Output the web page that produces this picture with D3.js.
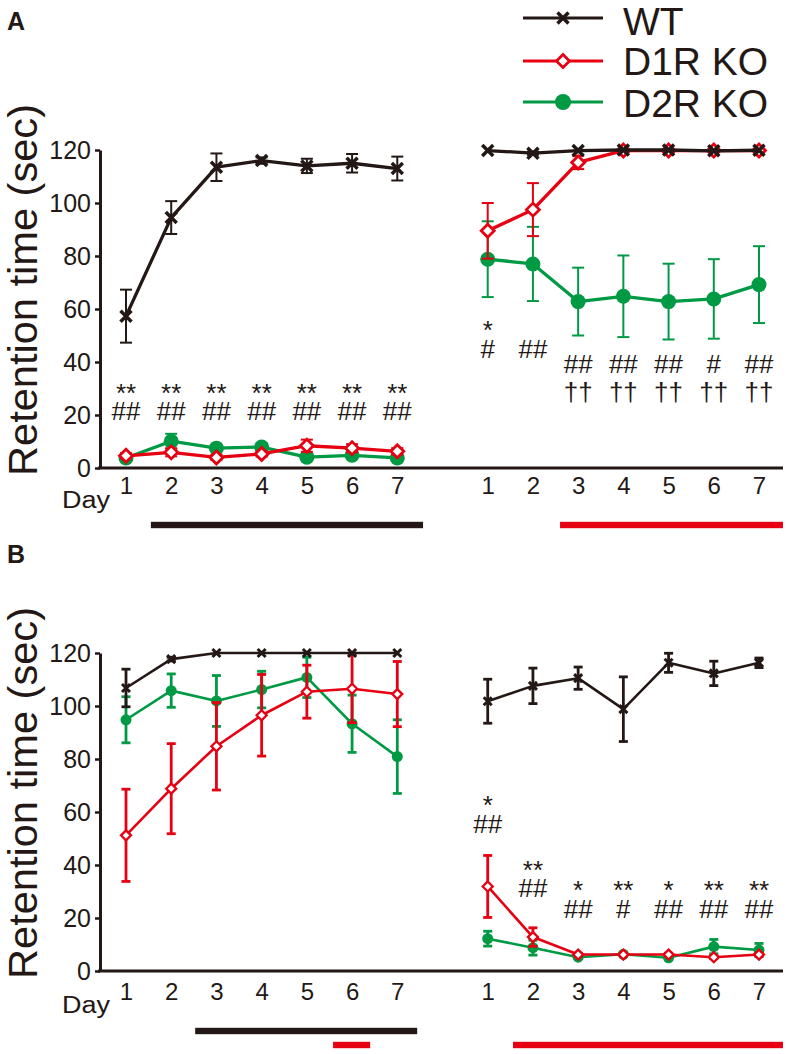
<!DOCTYPE html>
<html><head><meta charset="utf-8">
<script src="https://cdn.jsdelivr.net/npm/d3@7"></script>
<style>
body{margin:0;background:#fff}
svg{display:block}
text{font-family:"Liberation Sans",Arial,Helvetica,sans-serif;fill:#231815}
</style>
</head><body>
<svg id="chart" width="787" height="1054"></svg>
<script>
// ---------------- DATA ----------------
const dayLabels = ["1","2","3","4","5","6","7"];
const yTicks = [0,20,40,60,80,100,120];
const seriesNames = ["WT","D1R KO","D2R KO"];

// Panel A, first block (days 1-7)
const aL_WT   = [57.3, 94.5, 113.5, 116.0, 114.0, 115.0, 113.0];
const aL_WTe  = [10.0, 6.2, 5.2, 1.2, 2.7, 3.5, 4.5];
const aL_D1   = [4.6, 5.9, 4.0, 5.3, 8.4, 7.5, 6.3];
const aL_D1e  = [1.0, 1.5, 1.0, 1.0, 2.3, 1.5, 1.2];
const aL_D2   = [3.8, 10.1, 7.5, 7.9, 4.1, 4.8, 3.8];
const aL_D2e  = [0.8, 2.8, 1.0, 1.5, 0.8, 0.8, 0.6];
// Panel A, second block (days 1-7)
const aR_WT   = [119.8, 118.8, 119.8, 120.0, 120.0, 119.7, 119.9];
const aR_WTe  = [0.2, 0.6, 0.2, 0, 0, 0.3, 0.1];
const aR_D1   = [89.5, 97.5, 115.3, 119.8, 119.8, 119.8, 119.8];
const aR_D1e  = [10.5, 10.0, 2.5, 0.2, 0.2, 0.2, 0.2];
const aR_D2   = [78.8, 77.0, 62.8, 64.8, 62.8, 63.8, 69.2];
const aR_D2e  = [14.3, 14.0, 12.8, 15.4, 14.3, 15.0, 14.5];
// Panel B, first block
const bL_WT   = [106.8, 117.7, 120, 120, 120, 120, 120];
const bL_WTe  = [7.1, 0.7, 0, 0, 0, 0, 0];
const bL_D1   = [51.2, 68.8, 84.8, 96.5, 105.4, 106.5, 104.5];
const bL_D1e  = [17.4, 17.0, 16.5, 15.4, 10.0, 12.8, 12.3];
const bL_D2   = [94.8, 105.8, 101.9, 106.2, 110.8, 93.3, 80.9];
const bL_D2e  = [8.7, 6.3, 9.6, 6.9, 7.6, 10.8, 13.9];
// Panel B, second block
const bR_WT   = [101.8, 107.6, 110.5, 98.8, 116.3, 112.3, 116.3];
const bR_WTe  = [8.3, 6.7, 4.2, 12.2, 3.6, 4.6, 1.8];
const bR_D1   = [31.9, 12.8, 6.2, 6.2, 6.2, 5.2, 6.2];
const bR_D1e  = [11.7, 3.5, 0.5, 0.5, 0.5, 0.5, 0.5];
const bR_D2   = [12.2, 8.8, 5.2, 6.3, 5.0, 9.2, 7.9];
const bR_D2e  = [2.8, 2.8, 0.5, 0.5, 0.5, 2.7, 2.5];

// significance marks
const aL_stars  = ["**","**","**","**","**","**","**"];
const aL_hash   = ["##","##","##","##","##","##","##"];
const aR_stars  = ["*","","","","","",""];
const aR_hash   = ["#","##","##","##","##","#","##"];
const aR_dagger = ["","","††","††","††","††","††"];
const bR_stars  = ["*","**","*","**","*","**","**"];
const bR_hash   = ["##","##","##","#","##","##","##"];

// treatment period bars (in day-slot units: block 1 days 1-7 = 0..6, block 2 days 1-7 = 8..14)
const aBarsBlack = [[0.55, 6.57]];
const aBarsRed   = [[9.6, 14.53]];
const bBarsBlack = [[1.53, 6.44]];
const bBarsRed   = [[4.58, 5.4], [8.56, 14.53]];

// ---------------- DRAWING ----------------
const BLACK = "#231815", RED = "#e60012", GREEN = "#009944";
const svg = d3.select("#chart");
const x = d3.scaleLinear().domain([0, 14]).range([126, 759]);
const slotsL = d3.range(7), slotsR = d3.range(8, 15);

function panel(cfg) {
  const y = d3.scaleLinear().domain([0, 120]).range([cfg.y0, cfg.y0 - 318]);
  const g = svg.append("g");

  // y axis
  const ya = g.append("g").attr("transform", "translate(100,0)")
    .call(d3.axisLeft(y).tickValues(yTicks).tickSize(5).tickSizeOuter(0).tickPadding(4));
  ya.select(".domain").attr("stroke", BLACK).attr("stroke-width", 3);
  ya.selectAll(".tick line").attr("stroke", BLACK).attr("stroke-width", 2.5);
  ya.selectAll(".tick text").attr("font-size", 25).attr("font-family", null).style("fill", BLACK);

  // x axis line
  g.append("line").attr("x1", 98).attr("x2", 783).attr("y1", y(0)).attr("y2", y(0))
    .attr("stroke", BLACK).attr("stroke-width", 3);
  const xa = g.append("g").attr("transform", `translate(0,${y(0)})`)
    .call(d3.axisBottom(x).tickValues(slotsL.concat(slotsR)).tickSize(0).tickPadding(cfg.xPad)
      .tickFormat(d => dayLabels[d < 7 ? d : d - 8]));
  xa.select(".domain").remove();
  xa.selectAll(".tick text").attr("font-size", 24).attr("font-family", null).style("fill", BLACK);

  g.append("text").attr("x", 62).attr("y", cfg.dayY).attr("font-size", 23)
    .attr("textLength", 48).attr("lengthAdjust", "spacingAndGlyphs").text("Day");
  g.append("text").attr("transform", `translate(37,${cfg.y0 - 178}) rotate(-90)`)
    .attr("text-anchor", "middle").attr("font-size", 40).attr("textLength", 372)
    .attr("lengthAdjust", "spacingAndGlyphs").text("Retention time (sec)");
  g.append("text").attr("x", 7).attr("y", cfg.letterY).attr("font-size", 25)
    .attr("font-weight", "bold").text(cfg.letter);

  const s = cfg.style;
  function series(slots, vals, errs, color, kind) {
    const sg = g.append("g");
    slots.forEach((sl, i) => {
      if (errs[i] <= 0.3) return;
      const cx = x(sl), t = y(vals[i] + errs[i]), b = y(vals[i] - errs[i]);
      sg.append("line").attr("x1", cx).attr("x2", cx).attr("y1", t).attr("y2", b)
        .attr("stroke", color).attr("stroke-width", s.eb);
      [t, b].forEach(yy => sg.append("line").attr("x1", cx - s.cap).attr("x2", cx + s.cap)
        .attr("y1", yy).attr("y2", yy).attr("stroke", color).attr("stroke-width", s.eb));
    });
    sg.append("path").datum(slots.map((sl, i) => [sl, vals[i]]))
      .attr("d", d3.line().x(d => x(d[0])).y(d => y(d[1])))
      .attr("fill", "none").attr("stroke", color).attr("stroke-width", s.lw).attr("stroke-linejoin", "round");
    slots.forEach((sl, i) => drawMarker(sg, x(sl), y(vals[i]), kind, color, s));
  }
  cfg.blocks.forEach(bk => {
    series(bk.slots, bk.d2, bk.d2e, GREEN, "circle");
    series(bk.slots, bk.d1, bk.d1e, RED, "diamond");
    series(bk.slots, bk.wt, bk.wte, BLACK, "cross");
  });

  // annotations: one multi-line label per day
  cfg.annos.forEach(a => {
    a.slots.forEach((sl, i) => {
      const lines = a.rows.map(r => ({t: r.text[i], y: r.base(i)})).filter(l => l.t);
      if (!lines.length) return;
      const t = g.append("text").attr("text-anchor", "middle").attr("font-size", 26);
      lines.forEach(l => t.append("tspan").attr("x", x(sl)).attr("y", l.y).text(l.t));
    });
  });

  cfg.bars.forEach(b => b.list.forEach(r => {
    g.append("rect").attr("x", x(r[0])).attr("width", x(r[1]) - x(r[0]))
      .attr("y", b.y - 3.2).attr("height", 6.4).attr("fill", b.color);
  }));
}

function drawMarker(sel, cx, cy, kind, color, s) {
  if (kind === "circle") {
    sel.append("circle").attr("cx", cx).attr("cy", cy).attr("r", s.r).attr("fill", color);
  } else if (kind === "diamond") {
    const h = s.dm;
    sel.append("path").attr("d", `M${cx},${cy - h}L${cx + h},${cy}L${cx},${cy + h}L${cx - h},${cy}Z`)
      .attr("fill", "#fff").attr("stroke", color).attr("stroke-width", s.dw);
  } else {
    const h = s.cx;
    sel.append("path").attr("d", `M${cx - h},${cy - h}L${cx + h},${cy + h}M${cx - h},${cy + h}L${cx + h},${cy - h}`)
      .attr("stroke", color).attr("stroke-width", s.cw).attr("fill", "none");
  }
}

const styleA = {lw: 3.3, eb: 2, cap: 6, r: 7.5, dm: 6.5, dw: 2.8, cx: 5.5, cw: 3.5};
const styleB = {lw: 2.6, eb: 2.8, cap: 4.5, r: 5.5, dm: 5, dw: 2.3, cx: 4, cw: 3};

panel({
  y0: 468, xPad: 9, dayY: 508, letter: "A", letterY: 30, style: styleA,
  blocks: [
    {slots: slotsL, wt: aL_WT, wte: aL_WTe, d1: aL_D1, d1e: aL_D1e, d2: aL_D2, d2e: aL_D2e},
    {slots: slotsR, wt: aR_WT, wte: aR_WTe, d1: aR_D1, d1e: aR_D1e, d2: aR_D2, d2e: aR_D2e}
  ],
  annos: [
    {slots: slotsL, rows: [
      {text: aL_stars, base: i => 402},
      {text: aL_hash, base: i => 420}]},
    {slots: slotsR, rows: [
      {text: aR_stars, base: i => 339},
      {text: aR_hash, base: i => (aR_dagger[i] ? 373 : 358)},
      {text: aR_dagger, base: i => 401}]}
  ],
  bars: [{list: aBarsBlack, color: BLACK, y: 525}, {list: aBarsRed, color: RED, y: 525}]
});

panel({
  y0: 971, xPad: 12, dayY: 1013, letter: "B", letterY: 563, style: styleB,
  blocks: [
    {slots: slotsL, wt: bL_WT, wte: bL_WTe, d1: bL_D1, d1e: bL_D1e, d2: bL_D2, d2e: bL_D2e},
    {slots: slotsR, wt: bR_WT, wte: bR_WTe, d1: bR_D1, d1e: bR_D1e, d2: bR_D2, d2e: bR_D2e}
  ],
  annos: [
    {slots: slotsR, rows: [
      {text: bR_stars, base: i => [814, 879, 899, 899, 899, 899, 899][i]},
      {text: bR_hash, base: i => [833, 897, 918, 918, 918, 918, 918][i]}]}
  ],
  bars: [{list: bBarsBlack, color: BLACK, y: 1031}, {list: bBarsRed, color: RED, y: 1045}]
});

// legend
const legColors = [BLACK, RED, GREEN], legKinds = ["cross", "diamond", "circle"];
const legY = [18, 61, 102], legBase = [35, 75, 117];
const lg = svg.append("g");
seriesNames.forEach((n, i) => {
  lg.append("line").attr("x1", 523).attr("x2", 603).attr("y1", legY[i]).attr("y2", legY[i])
    .attr("stroke", legColors[i]).attr("stroke-width", 3.2);
  drawMarker(lg, 563, legY[i], legKinds[i], legColors[i], {r: 8, dm: 6.5, dw: 2.8, cx: 5.5, cw: 3.5});
  lg.append("text").attr("x", 623).attr("y", legBase[i]).attr("font-size", 39).text(n);
});
</script>
</body></html>
